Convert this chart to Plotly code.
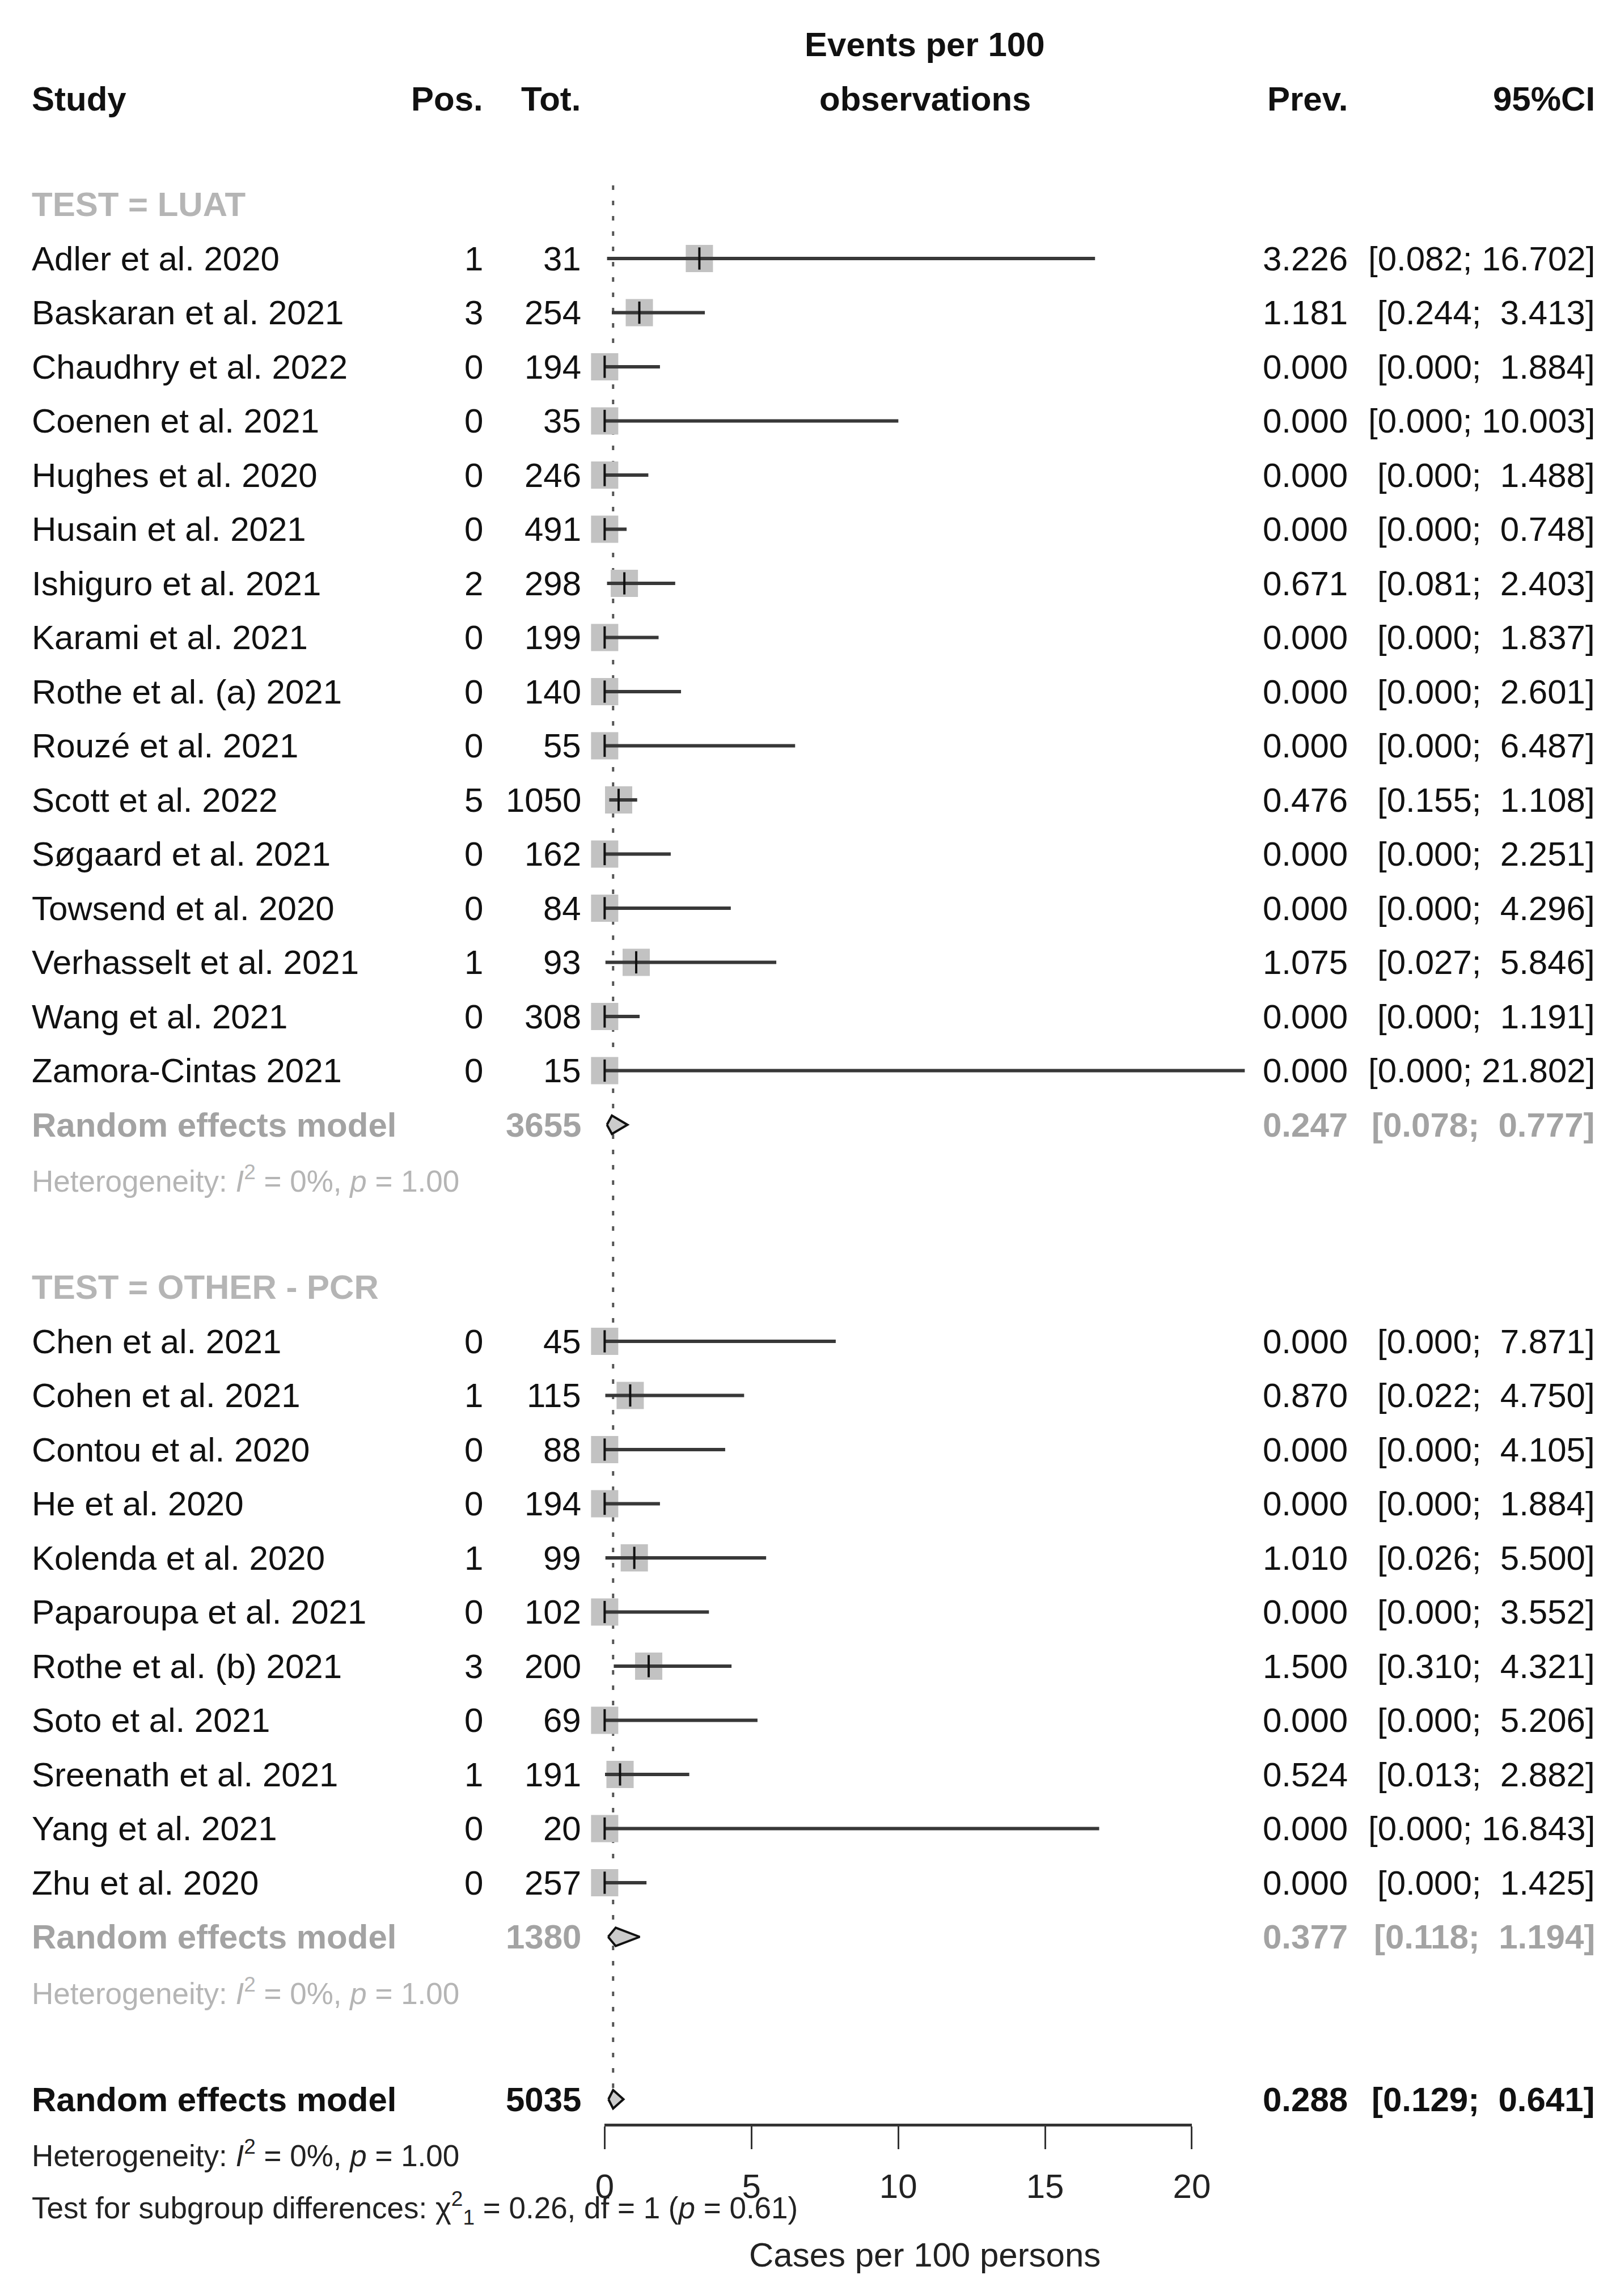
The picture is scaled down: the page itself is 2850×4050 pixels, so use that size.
import plotly.graph_objects as go

# ---------------- data ----------------
luat_study = ["Adler et al. 2020", "Baskaran et al. 2021", "Chaudhry et al. 2022", "Coenen et al. 2021",
              "Hughes et al. 2020", "Husain et al. 2021", "Ishiguro et al. 2021", "Karami et al. 2021",
              "Rothe et al. (a) 2021", "Rouzé et al. 2021", "Scott et al. 2022", "Søgaard et al. 2021",
              "Towsend et al. 2020", "Verhasselt et al. 2021", "Wang et al. 2021", "Zamora-Cintas 2021"]
luat_pos = [1, 3, 0, 0, 0, 0, 2, 0, 0, 0, 5, 0, 0, 1, 0, 0]
luat_tot = [31, 254, 194, 35, 246, 491, 298, 199, 140, 55, 1050, 162, 84, 93, 308, 15]
luat_prev = [3.226, 1.181, 0.000, 0.000, 0.000, 0.000, 0.671, 0.000, 0.000, 0.000, 0.476, 0.000, 0.000, 1.075, 0.000, 0.000]
luat_lo = [0.082, 0.244, 0.000, 0.000, 0.000, 0.000, 0.081, 0.000, 0.000, 0.000, 0.155, 0.000, 0.000, 0.027, 0.000, 0.000]
luat_hi = [16.702, 3.413, 1.884, 10.003, 1.488, 0.748, 2.403, 1.837, 2.601, 6.487, 1.108, 2.251, 4.296, 5.846, 1.191, 21.802]
luat_re = [0.247, 0.078, 0.777]
luat_re_n = 3655

pcr_study = ["Chen et al. 2021", "Cohen et al. 2021", "Contou et al. 2020", "He et al. 2020",
             "Kolenda et al. 2020", "Paparoupa et al. 2021", "Rothe et al. (b) 2021", "Soto et al. 2021",
             "Sreenath et al. 2021", "Yang et al. 2021", "Zhu et al. 2020"]
pcr_pos = [0, 1, 0, 0, 1, 0, 3, 0, 1, 0, 0]
pcr_tot = [45, 115, 88, 194, 99, 102, 200, 69, 191, 20, 257]
pcr_prev = [0.000, 0.870, 0.000, 0.000, 1.010, 0.000, 1.500, 0.000, 0.524, 0.000, 0.000]
pcr_lo = [0.000, 0.022, 0.000, 0.000, 0.026, 0.000, 0.310, 0.000, 0.013, 0.000, 0.000]
pcr_hi = [7.871, 4.750, 4.105, 1.884, 5.500, 3.552, 4.321, 5.206, 2.882, 16.843, 1.425]
pcr_re = [0.377, 0.118, 1.194]
pcr_re_n = 1380

overall_re = [0.288, 0.129, 0.641]
overall_n = 5035

group_labels = ["TEST = LUAT", "TEST = OTHER - PCR"]
het_text = "Heterogeneity: <i>I</i><sup>2</sup> = 0%, <i>p</i> = 1.00"
test_text = "Test for subgroup differences: χ<sup>2</sup><sub>1</sub> = 0.26, df = 1 (<i>p</i> = 0.61)"
x_ticks = [0, 5, 10, 15, 20]
x_title = "Cases per 100 persons"
model_label = "Random effects model"

# ---------------- geometry (figure pixels) ----------------
W, H = 2866, 4050
X0_PX, PX_PER_UNIT = 1068.0, 52.7
Y0_PX, PX_PER_ROW = 74.0, 95.5
x_range = [-X0_PX / PX_PER_UNIT, (W - X0_PX) / PX_PER_UNIT]
y_range = [(H - Y0_PX) / PX_PER_ROW, -Y0_PX / PX_PER_ROW]


def px(xp):
    return xp / W


COL_STUDY, COL_POS, COL_TOT, COL_EVT, COL_PREV, COL_CI = 38, 852, 1028, 1643, 2404, 2848
FONT = "Liberation Sans, Arial, sans-serif"
FS = 60
FS_SMALL = 53
BLACK = "#111111"
GRAY = "#a3a3a3"
GRAY_LIGHT = "#b5b5b5"

annotations = []


def txt(xp, r, s, anchor="left", size=FS, color=BLACK, bold=False):
    annotations.append(dict(
        x=px(xp), xref="paper", y=r, yref="y", text=("<b>%s</b>" % s) if bold else s,
        xanchor=anchor, yanchor="middle", showarrow=False,
        font=dict(family=FONT, size=size, color=color)))


def ci_str(lo, hi):
    return "[%s; %s]" % (f"{lo:.3f}", f"{hi:6.3f}".replace(" ", "\u00a0"))


# headers
txt(COL_EVT, 0.05, "Events per 100", "center", bold=True)
txt(COL_STUDY, 1.05, "Study", "left", bold=True)
txt(COL_POS, 1.05, "Pos.", "right", bold=True)
txt(COL_TOT, 1.05, "Tot.", "right", bold=True)
txt(COL_EVT, 1.05, "observations", "center", bold=True)
txt(COL_PREV, 1.05, "Prev.", "right", bold=True)
txt(COL_CI, 1.05, "95%CI", "right", bold=True)

groups = [
    (group_labels[0], luat_study, luat_pos, luat_tot, luat_prev, luat_lo, luat_hi, luat_re, luat_re_n),
    (group_labels[1], pcr_study, pcr_pos, pcr_tot, pcr_prev, pcr_lo, pcr_hi, pcr_re, pcr_re_n),
]

sq_x, sq_y = [], []
ci_x, ci_y = [], []
dia_traces = []


def diamond(est, lo, hi, r):
    h = 0.17
    return go.Scatter(x=[lo, est, hi, est, lo], y=[r, r - h, r, r + h, r], mode="lines",
                      fill="toself", fillcolor="#cccccc", line=dict(color="#111111", width=4),
                      showlegend=False, hoverinfo="skip")


r = 3
for (lab, st, pos, tot, prev, lo, hi, re, re_n) in groups:
    txt(COL_STUDY, r, lab, "left", color=GRAY_LIGHT, bold=True)
    r += 1
    for i in range(len(st)):
        txt(COL_STUDY, r, st[i], "left")
        txt(COL_POS, r, str(pos[i]), "right")
        txt(COL_TOT, r, str(tot[i]), "right")
        txt(COL_PREV, r, f"{prev[i]:.3f}", "right")
        txt(COL_CI, r, ci_str(lo[i], hi[i]), "right")
        sq_x.append(prev[i]); sq_y.append(r)
        ci_x += [lo[i], hi[i], None]; ci_y += [r, r, None]
        r += 1
    txt(COL_STUDY, r, model_label, "left", color=GRAY, bold=True)
    txt(COL_TOT, r, str(re_n), "right", color=GRAY, bold=True)
    txt(COL_PREV, r, f"{re[0]:.3f}", "right", color=GRAY, bold=True)
    txt(COL_CI, r, ci_str(re[1], re[2]), "right", color=GRAY, bold=True)
    dia_traces.append(diamond(re[0], re[1], re[2], r))
    r += 1
    txt(COL_STUDY, r, het_text, "left", size=FS_SMALL, color=GRAY_LIGHT)
    r += 2

# overall (row 38)
r_over = r
txt(COL_STUDY, r_over, model_label, "left", bold=True)
txt(COL_TOT, r_over, str(overall_n), "right", bold=True)
txt(COL_PREV, r_over, f"{overall_re[0]:.3f}", "right", bold=True)
txt(COL_CI, r_over, ci_str(overall_re[1], overall_re[2]), "right", bold=True)
dia_traces.append(diamond(overall_re[0], overall_re[1], overall_re[2], r_over))
txt(COL_STUDY, r_over + 1, het_text, "left", size=FS_SMALL, color="#222222")
txt(COL_STUDY, r_over + 2, test_text, "left", size=FS_SMALL, color="#222222")
txt(COL_EVT, r_over + 2.87, x_title, "center", color="#222222")

fig = go.Figure()

# dotted reference line at overall estimate
fig.add_trace(go.Scatter(x=[overall_re[0], overall_re[0]], y=[2.65, r_over + 0.15], mode="lines",
                         line=dict(color="#555555", width=4, dash="8px,19px"),
                         showlegend=False, hoverinfo="skip"))
# squares
fig.add_trace(go.Scatter(x=sq_x, y=sq_y, mode="markers",
                         marker=dict(symbol="square", size=48, color="#c2c2c2", line=dict(width=0)),
                         showlegend=False, hoverinfo="skip", cliponaxis=False))
# CI lines
fig.add_trace(go.Scatter(x=ci_x, y=ci_y, mode="lines", line=dict(color="#383838", width=6),
                         showlegend=False, hoverinfo="skip"))
# estimate ticks
fig.add_trace(go.Scatter(x=sq_x, y=sq_y, mode="markers",
                         marker=dict(symbol="line-ns", size=28, line=dict(width=4, color="#111111")),
                         showlegend=False, hoverinfo="skip", cliponaxis=False))
for t in dia_traces:
    fig.add_trace(t)

# visible axis (0..20) on a second x axis
axis_pos_px = Y0_PX + PX_PER_ROW * (r_over + 0.47)
fig.add_trace(go.Scatter(x=x_ticks, y=[None] * len(x_ticks), xaxis="x2", yaxis="y", mode="markers",
                         showlegend=False, hoverinfo="skip"))

fig.update_layout(
    width=W, height=H, margin=dict(l=0, r=0, t=0, b=0),
    paper_bgcolor="white", plot_bgcolor="rgba(0,0,0,0)",
    xaxis=dict(domain=[0, 1], range=x_range, visible=False, fixedrange=True),
    yaxis=dict(domain=[0, 1], range=y_range, visible=False, fixedrange=True),
    xaxis2=dict(domain=[X0_PX / W, (X0_PX + 20 * PX_PER_UNIT) / W], range=[x_ticks[0], x_ticks[-1]],
                anchor="free", position=1 - axis_pos_px / H, side="bottom",
                showline=True, linecolor="#333333", linewidth=5,
                tickvals=x_ticks, ticks="outside", ticklen=40, tickwidth=3, tickcolor="#333333",
                showgrid=False, zeroline=False, ticklabelstandoff=14,
                tickfont=dict(family=FONT, size=FS, color="#222222")),
    annotations=annotations,
    showlegend=False,
)

fig.write_html("out.html",
               config={"displayModeBar": False},
               post_script="document.body.style.margin='0px';document.body.style.overflow='hidden';")
